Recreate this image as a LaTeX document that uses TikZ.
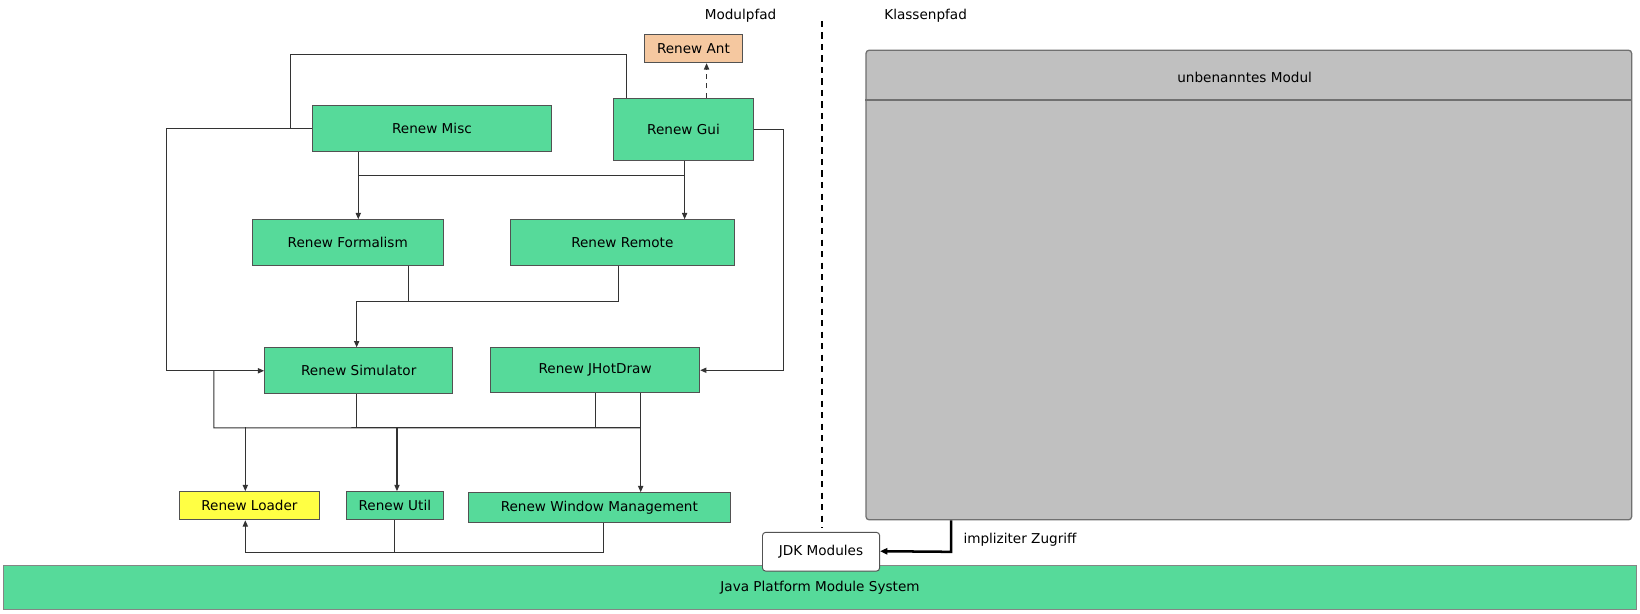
\documentclass[tikz,border=0pt]{standalone}
\usepackage{fontspec}
\setmainfont{DejaVu Sans}
\usetikzlibrary{calc,arrows.meta}
\definecolor{mgreen}{HTML}{56DA9A}
\definecolor{mpeach}{HTML}{F5C8A0}
\definecolor{myellow}{HTML}{FFFF44}
\definecolor{mgray}{HTML}{C0C0C0}
\definecolor{mline}{HTML}{333333}
\begin{document}
\begin{tikzpicture}[x=1pt,y=-1pt,
  every node/.style={font=\fontsize{13}{15}\selectfont, inner sep=0pt},
  modbox/.style={draw=mline!85, line width=0.9pt, fill=mgreen, anchor=center},
  conn/.style={draw=mline, line width=1pt},
  arr/.style={conn, -{Triangle[length=6pt,width=5pt]}},
  lbl/.style={text=black}
]
\useasboundingbox (0,0) rectangle (1568,587);
\fill[white] (0,0) rectangle (1568,587);

% boxes
\node[modbox, fill=mpeach, minimum width=94, minimum height=27] (ant) at (663,46.5) {Renew Ant};
\node[modbox, minimum width=133, minimum height=59] (gui) at (653.5,123.5) {Renew Gui};
\node[modbox, minimum width=228, minimum height=44] (misc) at (413,123) {Renew Misc};
\node[modbox, minimum width=183, minimum height=44] (form) at (332.5,232) {Renew Formalism};
\node[modbox, minimum width=214, minimum height=44] (rem) at (595,232) {Renew Remote};
\node[modbox, minimum width=180, minimum height=44] (sim) at (343,354.5) {Renew Simulator};
\node[modbox, minimum width=200, minimum height=43] (jhd) at (569,354) {Renew JHotDraw};
\node[modbox, fill=myellow, minimum width=133, minimum height=27] (loader) at (238.5,483.5) {Renew Loader};
\node[modbox, minimum width=93, minimum height=27] (util) at (377.5,483.5) {Renew Util};
\node[modbox, minimum width=250, minimum height=29] (wm) at (573,485.5) {Renew Window Management};

\node[modbox, draw=mline!60, minimum width=1562, minimum height=42] (jpms) at (784,562) {Java Platform Module System};
\node[draw=mline!85, line width=0.9pt, fill=white, rounded corners=3pt, minimum width=112, minimum height=37] (jdk) at (785,527.5) {JDK Modules};

% unnamed module
\node[draw=mline!70, line width=1.2pt, fill=mgray, rounded corners=3pt, minimum width=732, minimum height=449] (unb) at (1194,272.5) {};
\draw[mline!70, line width=1.5pt] ($(unb.north west)+(0,48)$) -- ($(unb.north east)+(0,48)$);
\node[lbl] (unbt) at (1190,74) {unbenanntes Modul};

% labels
\node[lbl] (modp) at (708,15) {Modulpfad};
\node[lbl] (klassp) at (885,15) {Klassenpfad};
\node[lbl, anchor=west] (impl) at (921,516) {impliziter Zugriff};

% separator dashed line
\coordinate (sepTop) at (786,20);
\coordinate (sepBot) at (786,505);
\draw[black, line width=2.4pt, dash pattern=on 6pt off 5pt] (sepTop) -- (sepBot);

% Gui -> Ant (dashed)
\draw[arr, dash pattern=on 5pt off 4pt] ($(gui.north west)+(89,0)$) coordinate (g0) -- (g0 |- ant.south);

% Gui top -> around -> joins Misc line
\draw[conn] ($(gui.north west)+(12,0)$) -- ++(0,-41) -| ($(misc.west)+(-21,0)$);
% Misc west -> Simulator west
\draw[arr] (misc.west) -- ++(-139,0) |- (sim.west);

% Misc/Gui -> Formalism / Remote
\draw[arr] ($(misc.south west)+(44,0)$) coordinate (m1) -- (m1 |- form.north);
\draw[arr] ($(gui.south west)+(68,0)$) coordinate (g2) -- (g2 |- rem.north);
\draw[conn] ($(m1)+(0,22)$) -- ($(g2)+(0,14)$);

% Formalism / Remote -> Simulator
\draw[conn] ($(form.south west)+(150,0)$) -- ++(0,34);
\draw[arr] ($(rem.south west)+(104,0)$) -- ++(0,34) -| ($(sim.north)+(-2,0)$);

% Gui -> JHotDraw
\draw[arr] (gui.east) -- ++(29,0) |- (jhd.east);

% bus to Loader/Util/WM
\draw[conn] ($(sim.west)+(-48,0)$) coordinate (b0) -- ++(0,54.5) coordinate (bl) -- ($(jhd.south west)+(144,33)$);
\draw[conn] ($(sim.south)+(-2,0)$) -- ++(0,32.5);
\draw[conn] ($(jhd.south west)+(101,0)$) -- ++(0,33);
\draw[arr] ($(jhd.south west)+(144,0)$) coordinate (j2) -- (j2 |- wm.north);
\draw[arr] ($(loader.north west)+(63,-61)$) coordinate (l1) -- (l1 |- loader.north);
\draw[arr] ($(util.north west)+(49,-61)$) coordinate (u1) -- (u1 |- util.north);

% Util / WM -> Loader
\draw[conn] ($(util.south west)+(47,0)$) -- ++(0,31);
\draw[arr] ($(wm.south west)+(129,0)$) -- ++(0,28) -| ($(loader.south west)+(63,0)$);

% implicit access
\draw[black, line width=2.4pt, -{Triangle[length=7pt,width=6pt]}] ($(unb.south west)+(82,0)$) -- ++(0,30) -- (jdk.east |- 0,527);
\end{tikzpicture}
\end{document}
